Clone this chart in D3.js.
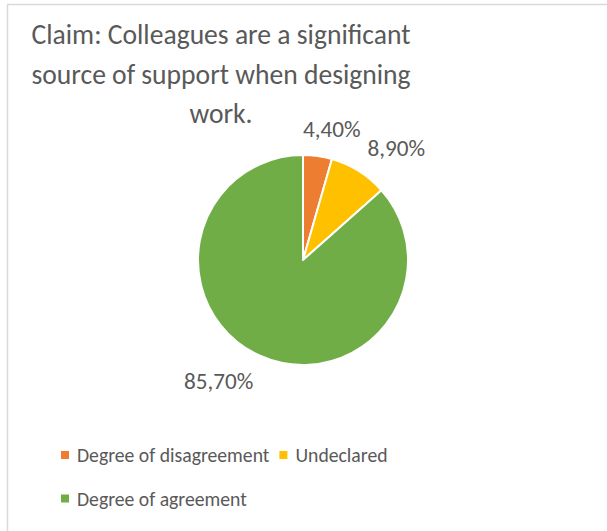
<!DOCTYPE html>
<html>
<head>
<meta charset="utf-8">
<script src="https://cdn.jsdelivr.net/npm/d3@7"></script>
<style>
  html, body { margin: 0; padding: 0; background: #fff; }
  svg { display: block; }
</style>
</head>
<body>
<svg id="chart" width="607" height="531"></svg>
<script>
// Survey answers, share of respondents (%)
const categories = ["Degree of disagreement", "Undeclared", "Degree of agreement"];
const shares = [4.4, 8.9, 85.7];
const shareLabels = ["4,40%", "8,90%", "85,70%"];
const sliceColors = ["#ED7D31", "#FFC000", "#70AD47"];
const titleLines = ["Claim: Colleagues are a significant", "source of support when designing", "work."];

const W = 607, H = 531;
const FONT = "Carlito, Lato, 'Open Sans', sans-serif";
const TEXT = "#595959";

const svg = d3.select("#chart");

// chart area frame
svg.append("rect")
  .attr("x", 7.5).attr("y", 4.5)
  .attr("width", W + 20).attr("height", H + 20)
  .attr("fill", "#fff")
  .attr("stroke", "#d9d9d9")
  .attr("stroke-width", 1.5);

// title
svg.append("g")
  .selectAll("text")
  .data(titleLines)
  .join("text")
  .attr("x", 221)
  .attr("y", (d, i) => 44 + i * 39.5)
  .attr("text-anchor", "middle")
  .attr("font-family", FONT)
  .attr("font-size", 27.6)
  .attr("fill", TEXT)
  .text(d => d);

// pie
const cx = 303, cy = 260, radius = 105;
const pie = d3.pie().sort(null).value(d => d)(shares);
const arc = d3.arc().innerRadius(0).outerRadius(radius);

const g = svg.append("g").attr("transform", `translate(${cx},${cy})`);

g.selectAll("path")
  .data(pie)
  .join("path")
  .attr("d", arc)
  .attr("fill", (d, i) => sliceColors[i])
  .attr("stroke", "#fff")
  .attr("stroke-width", 2)
  .attr("stroke-linejoin", "round");

// value labels, outside end
const labelR = 121;
const labelSize = 23.2;
const labels = g.selectAll("text.val")
  .data(pie)
  .join("text")
  .attr("class", "val")
  .attr("font-family", FONT)
  .attr("font-size", labelSize)
  .attr("fill", TEXT)
  .attr("text-anchor", "middle")
  .text((d, i) => shareLabels[i]);

labels.each(function(d) {
  const a = (d.startAngle + d.endAngle) / 2;
  const s = Math.sin(a), c = Math.cos(a);
  const w = this.getComputedTextLength();
  const x = labelR * s + Math.sign(s) * (w / 2) * Math.min(1, 3 * Math.abs(s));
  const y = -labelR * c - c * 11;
  d3.select(this).attr("x", x).attr("y", y).attr("dy", "0.35em");
});

// legend
const legendRows = [[0, 1], [2]];
const legend = svg.append("g");
legendRows.forEach((row, r) => {
  let x = 61;
  const y = 462 + r * 43.5;
  row.forEach(i => {
    legend.append("rect")
      .attr("x", x).attr("y", y - 11)
      .attr("width", 8).attr("height", 8)
      .attr("fill", sliceColors[i]);
    const t = legend.append("text")
      .attr("x", x + 16).attr("y", y)
      .attr("font-family", FONT)
      .attr("font-size", 19.7)
      .attr("fill", TEXT)
      .text(categories[i]);
    x += 16 + t.node().getComputedTextLength() + 10;
  });
});
</script>
</body>
</html>
